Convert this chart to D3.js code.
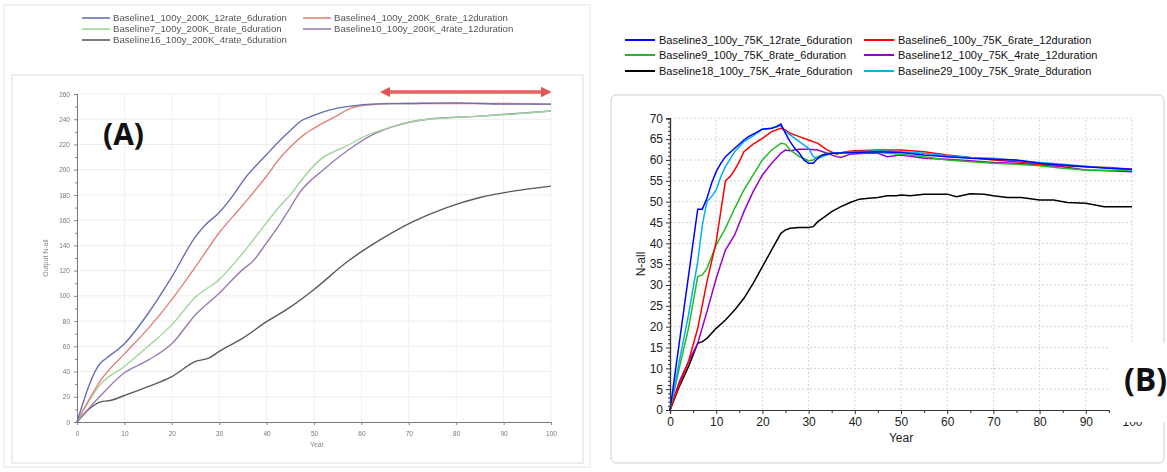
<!DOCTYPE html>
<html><head><meta charset="utf-8">
<script src="https://cdn.jsdelivr.net/npm/d3@7"></script>
<style>body{margin:0;background:#fff}svg{display:block}</style>
</head><body><svg id="c" width="1167" height="472"></svg>
<script>
// ---------- Panel A data ----------
const namesA = ["Baseline1_100y_200K_12rate_6duration","Baseline4_100y_200K_6rate_12duration","Baseline7_100y_200K_8rate_6duration","Baseline10_100y_200K_4rate_12duration","Baseline16_100y_200K_4rate_6duration"];
const colorsA = ["#6670b4","#e0837a","#9fd69a","#9a7cae","#5a5a5a"];
const yearsA1 = [0,5,6,10,15,20,25,27,30,33,35,40,43,45,47,50,53,58,62,70,80,90,100];
const valsA1  = [0,47,50,62,86,115,147,156,166,180,191,212,224,231,238,243,247,250.5,252,252.5,253,252,252];
const yearsA2 = [0,5,10,15,20,25,30,35,40,43,45,48,51,54,58,62,66,70,80,90,100];
const valsA2  = [0,33,54,74,97,123,150,172,195,210,218,228,235,241,249,251.5,252.5,252.5,252.5,252.5,252];
const yearsA3 = [0,5,10,15,20,25,30,35,40,43,45,47,51,57,61,66,71,78,85,92,100];
const valsA3  = [0,30,44,60,77,99,113,134,158,172,180,190,207,219,227,233.5,238.5,241,242.5,244,246.5];
const yearsA4 = [0,5,10,15,20,25,30,35,37,40,43,45,47,52,57,62,67,74,85,100];
const valsA4  = [0,21,39,49,62,85,102,121,127,142,158,170,182,200,215,227,234.5,240,242.5,246.5];
const yearsA5 = [0,5,7,10,15,20,25,28,30,35,40,45,50,57,64,71,78,85,92,100];
const valsA5  = [0,16,17,21,28,36,48,51,56,66.5,79.5,91,105,127,144.5,159,170,178,183,187];
const ticksAY = [0,20,40,60,80,100,120,140,160,180,200,220,240,260];
const ticksAX = [0,10,20,30,40,50,60,70,80,90,100];

// ---------- Panel B data ----------
const namesB = ["Baseline3_100y_75K_12rate_6duration","Baseline6_100y_75K_6rate_12duration","Baseline9_100y_75K_8rate_6duration","Baseline12_100y_75K_4rate_12duration","Baseline18_100y_75K_4rate_6duration","Baseline29_100y_75K_9rate_8duration"];
const colorsB = ["#0000ff","#ff0000","#22bb22","#9900cc","#000000","#00b0f0"];
const yearsB3 = [0,6,7,8,9,10,11,12,14,16,17,18,20,22,23,24,25,26,27,28,29,30,31,32,33,35,40,45,50,55,60,65,70,75,80,85,90,95,100];
const valsB3  = [0,48.2,48.2,50.8,54.4,57.2,59.2,60.8,62.8,64.8,65.6,66.2,67.4,67.6,68,68.6,66.4,64.4,62.8,61.6,60,59.2,59.2,60.4,61.2,61.6,61.8,62,61.8,61.2,60.8,60.4,60.2,60,59.2,58.8,58.4,58,57.8];
const yearsB6 = [0,2,4,6,8,10,12,13,14,15,16,18,20,22,24,25,26,28,30,32,34,36,38,40,45,50,55,60,65,70,75,80,85,90,95,100];
const valsB6  = [0,6,11.6,19.6,30.8,40.4,55,56,57.6,59.6,62,63.8,65.2,66.8,67.6,67.2,66.4,65.6,64.8,64,62.4,61.4,62,62.2,62.4,62.4,62,61.2,60.6,60,59.6,59,58.6,58.4,58.2,57.8];
const yearsB9 = [0,2,4,6,7,8,10,12,14,16,18,20,22,24,25,26,28,30,31,32,34,40,45,50,55,60,65,70,75,80,85,90,95,100];
const valsB9  = [0,10,19.6,32,32.4,34,39.6,43.6,48.4,52.8,56.4,60,62.4,64,63.8,62.4,60.8,59.8,60,60.8,61.6,61.8,61.8,61.4,60.8,60,59.6,59.2,59,58.6,58,57.6,57.5,57.6];
const yearsB12 = [0,2,4,6,8,10,12,14,16,18,20,22,24,25,26,28,30,32,34,36,37,39,42,45,47,50,55,60,65,70,75,80,85,90,95,100];
const valsB12  = [0,6.8,11.6,16,23.6,31.6,38.4,42,47.6,52.4,56.4,59.2,61.6,62.4,62.2,62.6,62.6,62.4,61.6,60.8,60.6,61.4,61.6,61.6,60.8,61.2,60.4,60.2,59.8,59.4,59.2,58.8,58.4,57.6,57.4,57.2];
const yearsB18 = [0,2,4,6,7,8,10,12,14,16,18,20,22,24,25,26,28,30,31,32,33,35,37,39,41,43,45,47,49,50,52,55,60,62,65,68,70,73,76,80,83,86,90,94,97,100];
const valsB18  = [0,5.6,10.4,16,16.4,17.2,19.6,21.6,24,26.8,30.4,34.4,38.4,42.4,43.2,43.6,43.8,43.8,44,45.2,46,47.6,48.8,49.8,50.6,50.8,51,51.4,51.4,51.6,51.4,51.8,51.8,51.2,51.9,51.8,51.4,51,51,50.4,50.4,49.8,49.6,48.8,48.8,48.8];
const yearsB29 = [0,2,4,6,7,8,9,10,11,12,14,16,18,20,22,24,25,26,28,30,31,32,33,35,40,45,50,55,60,65,70,75,80,85,90,95,100];
const valsB29  = [0,11.6,22.8,35.6,44.4,50,51.2,52.8,56,58.4,62,64.4,65.8,67.4,67.6,68.2,66.8,66,64.4,62.8,60.8,60.4,60.8,61.6,62,62.2,62,61.6,61,60.6,60.4,59.9,59.4,59,58.5,58,57.6];
const ticksBY = d3.range(0, 71, 5);
const ticksBX = d3.range(0, 101, 10);

const svg = d3.select("#c");
const zip = (xs, ys) => xs.map((x, i) => [x, ys[i]]);

// ================= Panel A =================
const defs = svg.append("defs");
defs.append("filter").attr("id","soft").append("feGaussianBlur").attr("stdDeviation",0.55);
const mk = (id, orient) => defs.append("marker").attr("id", id).attr("viewBox","0 0 10 10")
  .attr("refX",5).attr("refY",5).attr("markerWidth",3).attr("markerHeight",3).attr("orient",orient)
  .append("path").attr("d","M0,0L10,5L0,10Z").attr("fill","#e05656");
mk("arrE","auto"); mk("arrS","auto-start-reverse");

const A = svg.append("g").attr("filter","url(#soft)");
A.append("rect").attr("x",4).attr("y",5).attr("width",586).attr("height",462).attr("fill","#fff").attr("stroke","#e6e6e6");
A.append("rect").attr("x",12).attr("y",75).attr("width",571).attr("height",388).attr("fill","#fff").attr("stroke","#dcdcdc");

const xA = d3.scaleLinear().domain([0,100]).range([77,551]);
const yA = d3.scaleLinear().domain([0,260]).range([422,94]);

A.append("g").selectAll("line").data(ticksAY.slice(1)).join("line")
  .attr("x1",xA(0)).attr("x2",xA(100)).attr("y1",d=>yA(d)).attr("y2",d=>yA(d)).attr("stroke","#ececec");
A.append("g").selectAll("line").data(ticksAX.slice(1)).join("line")
  .attr("x1",d=>xA(d)).attr("x2",d=>xA(d)).attr("y1",yA(0)).attr("y2",yA(260)).attr("stroke","#f0f0f0");

const axA_y = A.append("g").attr("transform",`translate(${xA(0)},0)`)
  .call(d3.axisLeft(yA).tickValues(ticksAY).tickSize(3).tickPadding(4));
axA_y.selectAll("text").attr("font-family","Liberation Sans").attr("font-size",6.5).attr("fill","#777");
A.append("g").attr("transform",`translate(${xA(0)},0)`)
  .call(d3.axisLeft(yA).tickValues(d3.range(10,260,20)).tickSize(2).tickFormat(""));
const axA_x = A.append("g").attr("transform",`translate(0,${yA(0)})`)
  .call(d3.axisBottom(xA).tickValues(ticksAX).tickSize(3).tickPadding(6));
axA_x.selectAll("text").attr("font-family","Liberation Sans").attr("font-size",6.5).attr("fill","#777");
A.selectAll(".domain").attr("stroke","#777");
A.selectAll(".tick line").attr("stroke","#888");
A.append("text").attr("x",317).attr("y",447).attr("text-anchor","middle").attr("font-family","Liberation Sans").attr("font-size",7).attr("fill","#888").text("Year");
A.append("text").attr("transform","translate(48,258) rotate(-90)").attr("text-anchor","middle").attr("font-family","Liberation Sans").attr("font-size",7).attr("fill","#888").text("Output N-all");

const lineA = d3.line().x(d=>xA(d[0])).y(d=>yA(d[1])).curve(d3.curveMonotoneX);
const seriesA = [zip(yearsA5,valsA5), zip(yearsA4,valsA4), zip(yearsA3,valsA3), zip(yearsA2,valsA2), zip(yearsA1,valsA1)];
const colA = [colorsA[4], colorsA[3], colorsA[2], colorsA[1], colorsA[0]];
seriesA.forEach((s,i)=>A.append("path").datum(s).attr("d",lineA).attr("fill","none").attr("stroke",colA[i]).attr("stroke-width",1.4));

const legA = [[82,18],[303,18],[82,29],[303,29],[82,40]];
namesA.forEach((n,i)=>{
  const [lx,ly]=legA[i];
  A.append("line").attr("x1",lx).attr("x2",lx+28).attr("y1",ly).attr("y2",ly).attr("stroke",colorsA[i]).attr("stroke-width",1.6);
  A.append("text").attr("x",lx+31).attr("y",ly+3).attr("font-family","Liberation Sans").attr("font-size",9.6).attr("fill","#555").text(n);
});

A.append("line").attr("x1",xA(65)).attr("x2",xA(99)).attr("y1",92).attr("y2",92)
  .attr("stroke","#e86060").attr("stroke-width",3.5).attr("marker-end","url(#arrE)").attr("marker-start","url(#arrS)");

svg.append("text").attr("x",103).attr("y",145).attr("font-family","Open Sans").attr("font-weight","bold").attr("font-size",30).attr("fill","#111").text("(A)");

// ================= Panel B =================
const B = svg.append("g");
B.append("rect").attr("x",611).attr("y",95).attr("width",553).attr("height",368).attr("rx",5).attr("fill","#fff").attr("stroke","#cfcfcf");
const xB = d3.scaleLinear().domain([0,100]).range([670,1132]);
const yB = d3.scaleLinear().domain([0,70]).range([410,118.3]);

B.append("g").selectAll("line").data(ticksBY.slice(1)).join("line")
  .attr("x1",xB(0)).attr("x2",xB(100)).attr("y1",d=>yB(d)).attr("y2",d=>yB(d))
  .attr("stroke","#d4d4d4").attr("stroke-dasharray","2,2");
B.append("g").selectAll("line").data(ticksBX.slice(1)).join("line")
  .attr("x1",d=>xB(d)).attr("x2",d=>xB(d)).attr("y1",yB(0)).attr("y2",yB(70))
  .attr("stroke","#d4d4d4").attr("stroke-dasharray","2,2");

const lineB = d3.line().x(d=>xB(d[0])).y(d=>yB(d[1]));
const seriesB = [[yearsB18,valsB18,4],[yearsB12,valsB12,3],[yearsB9,valsB9,2],[yearsB6,valsB6,1],[yearsB29,valsB29,5],[yearsB3,valsB3,0]];
seriesB.forEach(([xs,ys,c])=>B.append("path").datum(zip(xs,ys)).attr("d",lineB).attr("fill","none").attr("stroke",colorsB[c]).attr("stroke-width",1.5));

B.append("g").attr("transform",`translate(${xB(0)},0)`)
  .call(d3.axisLeft(yB).tickValues(ticksBY).tickSize(4).tickPadding(3));
B.append("g").attr("transform",`translate(${xB(0)},0)`)
  .call(d3.axisLeft(yB).tickValues(d3.range(0,70,1).filter(v=>v%5)).tickSize(2).tickFormat(""));
B.append("g").attr("transform",`translate(0,${yB(0)})`)
  .call(d3.axisBottom(xB).tickValues(ticksBX).tickSize(4).tickPadding(3));
B.append("g").attr("transform",`translate(0,${yB(0)})`)
  .call(d3.axisBottom(xB).tickValues(d3.range(5,100,10)).tickSize(3).tickFormat(""));
B.selectAll("text").attr("font-family","Liberation Sans").attr("font-size",12).attr("fill","#222");
B.selectAll(".domain").attr("stroke","#333").attr("stroke-width",1.2);
B.selectAll(".tick line").attr("stroke","#333");
B.append("text").attr("x",xB(50)).attr("y",442).attr("text-anchor","middle").attr("font-family","Liberation Sans").attr("font-size",12).attr("fill","#222").text("Year");
B.append("text").attr("transform","translate(645,264) rotate(-90)").attr("text-anchor","middle").attr("font-family","Liberation Sans").attr("font-size",12).attr("fill","#222").text("N-all");

const legB = [[625,40],[864,40],[625,55],[864,55],[625,71],[864,71]];
namesB.forEach((n,i)=>{
  const [lx,ly]=legB[i];
  svg.append("line").attr("x1",lx).attr("x2",lx+30).attr("y1",ly).attr("y2",ly).attr("stroke",colorsB[i]).attr("stroke-width",2);
  svg.append("text").attr("x",lx+34).attr("y",ly+4).attr("font-family","Liberation Sans").attr("font-size",11).attr("fill","#111").text(n);
});

svg.append("rect").attr("x",1110).attr("y",343).attr("width",57).attr("height",79).attr("fill","#fff");
svg.append("text").attr("x",1124).attr("y",391).attr("font-family","Open Sans").attr("font-weight","bold").attr("font-size",32).attr("fill","#111").text("(B)");
</script></body></html>
